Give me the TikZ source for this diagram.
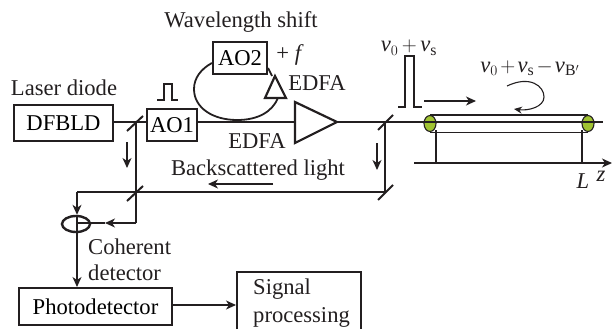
\documentclass[tikz,border=0pt]{standalone}
\usepackage{fontspec}
\setmainfont{Liberation Serif}
\usetikzlibrary{arrows.meta}
\usetikzlibrary{shapes.geometric}
\definecolor{fibergreen}{RGB}{160,195,50}
\definecolor{inkgray}{RGB}{35,31,32}
\newcommand{\fnu}{\mbox{\textit{ν}}}
\tikzset{
    blockbox/.style={draw=inkgray, line width=2.2pt, inner sep=0pt, font=\fontsize{22.6}{26}\selectfont},
    beam/.style={draw=inkgray, line width=1.1pt},
    beamarrow/.style={beam, -{Stealth[length=10pt,width=9pt,inset=3pt]}},
    mirrorbar/.style={draw=inkgray, line width=2pt},
    amptri/.style={draw=inkgray, line width=2.2pt},
    label/.style={text=inkgray, inner sep=0pt, anchor=base, font=\fontsize{22.6}{26}\selectfont},
    fiberend/.style={draw=inkgray, line width=1.1pt, fill=fibergreen, ellipse, minimum width=12pt, minimum height=16pt, inner sep=0pt}
}
\begin{document}
\begin{tikzpicture}[x=1pt,y=-1pt]
    \useasboundingbox (0,0) rectangle (612,329);
    % blocks
    \node[blockbox, minimum width=99pt, minimum height=36pt] (dfbld) at (63.5,123) {DFBLD};
    \node[blockbox, minimum width=50pt, minimum height=32pt] (aoone) at (172,125) {AO1};
    \node[blockbox, minimum width=54pt, minimum height=32pt] (aotwo) at (240,58) {AO2};
    \node[blockbox, minimum width=153pt, minimum height=37pt] (photo) at (95.5,306.5) {Photodetector};
    % beam corners and mirrors
    \coordinate (mone) at (136,122);
    \coordinate (mtwo) at (385,122);
    \coordinate (mthree) at (136,192);
    \coordinate (mfour) at (385,192);
    \coordinate (corner) at (136,223);
    \coordinate (topleft) at (77,192);
    \coordinate (ampin) at (295,122);
    \coordinate (amptip) at (337,122);
    \coordinate (lineend) at (603,122);
    \draw[beam] (dfbld.east |- mone) -- (mone) -- (aoone.west |- mone);
    \draw[beam] (aoone.east |- mone) -- (ampin);
    \draw[beam] (mone) -- (corner);
    \draw[beam] (mtwo) -- (mfour) -- (topleft);
    \draw[mirrorbar] (127,131) -- (143,116);
    \draw[mirrorbar] (378,130) -- (393,115);
    \draw[mirrorbar] (127,201) -- (143,186);
    \draw[mirrorbar] (378,200) -- (393,185);
    % amplifiers
    \draw[amptri, fill=white] (ampin |- 0,102) -- (amptip) -- (ampin |- 0,143) -- cycle;
    \coordinate (tritop) at (275,76);
    \draw[amptri] (tritop) -- (286,98) -- (265,98) -- cycle;
    % loop
    \draw[beam, line width=1.8pt] (aotwo.west |- 0,63) .. controls (201,69) and (194,78) .. (194,89)
        .. controls (194,108) and (213,120) .. (237,120)
        .. controls (258,120) and (272,112) .. (278,98);
    \draw[beam, line width=1.8pt] (aotwo.east |- 0,68) -- (272,76);
    % detector
    \node[draw=inkgray, line width=2.4pt, ellipse, minimum width=28pt, minimum height=16pt, inner sep=0pt] (coupler) at (76,224) {};
    \draw[beamarrow] (topleft) -- (coupler.north -| topleft);
    \draw[beamarrow] (corner) -- (105,223);
    \draw[beam] (105,223) -- (77,223);
    \draw[beamarrow] (77,216) -- (77,287);
    \draw[beamarrow] (photo.east |- 0,305) -- (236,305);
    % signal processing box, cut by the page edge
    \draw[draw=inkgray, line width=2.2pt] (237,329) -- (237,272) -- (361,272) -- (361,329);
    \node[label, align=left, anchor=north west] (signal) at (253,279) {Signal\\[2pt]processing};
    % arrows
    \draw[beamarrow] (127,142) -- (127,168);
    \draw[beamarrow] (377,143) -- (377,170);
    \draw[beamarrow] (273,184) -- (208,184);
    \draw[beamarrow] (424,101) -- (476,101);
    \draw[draw=inkgray, line width=1.1pt, -{Stealth[length=8pt,width=7pt]}] (507,86) .. controls (530,75) and (544,86) .. (544,97) .. controls (544,107) and (528,111) .. (514,109);
    % pulses
    \draw[draw=inkgray, line width=1.6pt] (157,100) -- (164,100) -- (164,84) -- (172,84) -- (172,100) -- (178,100);
    \draw[draw=inkgray, line width=1.8pt] (398,107) -- (405,107) -- (405,56) -- (414,56) -- (414,107) -- (422,107);
    % fiber
    \node[fiberend] (fiberl) at (430,123.5) {};
    \node[fiberend] (fiberr) at (588,123.5) {};
    \draw[beam] (fiberl.north) -- (fiberr.north);
    \draw[beam] (fiberl.south) -- (fiberr.south);
    \draw[beam] (amptip) -- (lineend);
    \coordinate (axisl) at (414,163);
    \coordinate (axisr) at (612,163);
    \draw[beamarrow] (axisl) -- (axisr);
    \draw[beam] (436,130) -- (436,163);
    \draw[beam] (582,130) -- (582,163);
    % labels
    \node[label] (laser) at (64,95) {Laser diode};
    \node[label] (shift) at (241,28) {Wavelength shift};
    \node[label] (plusf) at (290,60) {+ \textit{f}};
    \node[label] (edfaa) at (317,90) {EDFA};
    \node[label] (edfab) at (257,148) {EDFA};
    \node[label] (back) at (258,175) {Backscattered light};
    \node[label, align=left, anchor=north west] (coh) at (88,239) {Coherent\\detector};
    \node[label] (vleft) at (409,52) {$\medmuskip=3mu\fnu_0+\fnu_{\mathrm{s}}$};
    \node[label] (vright) at (530,72) {$\medmuskip=2mu\fnu_0+\fnu_{\mathrm{s}}-\fnu_{\mathrm{B}'}$};
    \node[label] (ell) at (583,188) {\textit{L}};
    \node[label] (zed) at (601,181) {\textit{z}};
\end{tikzpicture}
\end{document}
